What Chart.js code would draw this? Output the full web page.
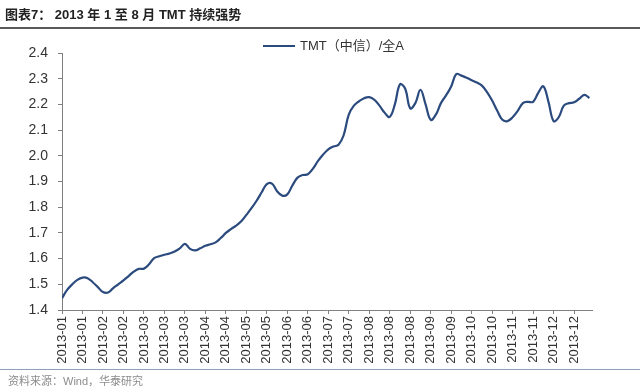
<!DOCTYPE html>
<html>
<head>
<meta charset="utf-8">
<script src="https://cdn.jsdelivr.net/npm/chart.js@4/dist/chart.umd.min.js"></script>
<style>
  body { margin: 0; background: #fff; }
  #wrap { position: relative; width: 640px; height: 387px; overflow: hidden; }
  #chart { position: absolute; left: 0; top: 0; }
  .title { position: absolute; left: 5px; top: 4px; font: bold 13px "Liberation Sans", "Noto Sans CJK SC", sans-serif; color: #222; white-space: pre; }
  .rule-top { position: absolute; left: 0; top: 27px; width: 640px; height: 2px; background: #595959; }
  .rule-bottom { position: absolute; left: 0; top: 369px; width: 640px; height: 1px; background: #8fa0b8; }
  .source { position: absolute; left: 8px; top: 372px; font: 11px "Liberation Sans", "Noto Sans CJK SC", sans-serif; color: #8c8c8c; }
</style>
</head>
<body>
<div id="wrap">
  <canvas id="chart" width="640" height="387"></canvas>
  <div class="title">图表7： 2013 年 1 至 8 月 TMT 持续强势</div>
  <div class="rule-top"></div>
  <div class="rule-bottom"></div>
  <div class="source">资料来源：Wind，华泰研究</div>
</div>
<script>
var seriesName = 'TMT（中信）/全A';

// tick labels, one every 4 points
var tickLabels = ['2013-01', '2013-01', '2013-02', '2013-02', '2013-03', '2013-03', '2013-03',
    '2013-04', '2013-04', '2013-05', '2013-05', '2013-06', '2013-06', '2013-07', '2013-07',
    '2013-08', '2013-08', '2013-08', '2013-09', '2013-09', '2013-10', '2013-10', '2013-11',
    '2013-11', '2013-12', '2013-12'];

// ratio, evenly spaced points
var values = [
    1.446, 1.478, 1.500, 1.517, 1.526, 1.524, 1.508, 1.489, 1.470, 1.468,
    1.485, 1.500, 1.515, 1.532, 1.549, 1.560, 1.561, 1.578, 1.602, 1.609,
    1.615, 1.620, 1.628, 1.640, 1.657, 1.638, 1.632, 1.640, 1.650, 1.656,
    1.663, 1.680, 1.700, 1.715, 1.728, 1.745, 1.770, 1.796, 1.825, 1.858,
    1.890, 1.892, 1.862, 1.845, 1.850, 1.885, 1.915, 1.925, 1.928, 1.950,
    1.980, 2.005, 2.025, 2.036, 2.043, 2.080, 2.160, 2.195, 2.212, 2.224,
    2.228, 2.218, 2.195, 2.168, 2.151, 2.200, 2.278, 2.262, 2.185, 2.205,
    2.257, 2.200, 2.140, 2.160, 2.205, 2.235, 2.270, 2.318, 2.312, 2.304,
    2.294, 2.285, 2.273, 2.248, 2.215, 2.175, 2.140, 2.135, 2.150, 2.175,
    2.205, 2.210, 2.210, 2.245, 2.270, 2.210, 2.135, 2.150, 2.195, 2.205,
    2.208, 2.222, 2.237, 2.225
];

var pointsPerTick = 4;
var fontFamily = '"Liberation Sans", "Noto Sans CJK SC", sans-serif';
var axisColor = '#808080';
var lineColor = '#2b4b7e';

// legend drawn by hand: short line + series name, placed above the plot
var lineLegend = {
    id: 'lineLegend',
    afterDraw: function (chart) {
        var ctx = chart.ctx;
        var ds = chart.data.datasets[0];
        var x = 263, y = 46;
        ctx.save();
        ctx.strokeStyle = ds.borderColor;
        ctx.lineWidth = 2;
        ctx.beginPath();
        ctx.moveTo(x, y);
        ctx.lineTo(x + 32, y);
        ctx.stroke();
        ctx.fillStyle = '#333';
        ctx.font = '13px ' + fontFamily;
        ctx.textBaseline = 'middle';
        ctx.fillText(ds.label, x + 37, y);
        ctx.restore();
    }
};

new Chart(document.getElementById('chart'), {
    type: 'line',
    data: {
        datasets: [{
            label: seriesName,
            data: values.map(function (v, i) { return { x: i, y: v }; }),
            borderColor: lineColor,
            borderWidth: 2.2,
            pointRadius: 0,
            tension: 0.4,
            fill: false
        }]
    },
    options: {
        responsive: false,
        animation: false,
        layout: { padding: { left: 0, right: 48, top: 53, bottom: 0 } },
        plugins: {
            legend: { display: false },
            tooltip: { enabled: false }
        },
        scales: {
            x: {
                type: 'linear',
                min: 0,
                max: 103.5,
                afterFit: function (s) { s.height = 77; },
                border: { display: true, color: axisColor, width: 1 },
                grid: { drawOnChartArea: false, drawTicks: true, tickLength: 4, color: axisColor },
                ticks: {
                    stepSize: pointsPerTick,
                    includeBounds: false,
                    autoSkip: false,
                    minRotation: 90,
                    maxRotation: 90,
                    padding: 2,
                    color: '#333',
                    font: { family: fontFamily, size: 13 },
                    callback: function (v) {
                        var k = v / pointsPerTick;
                        return tickLabels[k] || '';
                    }
                }
            },
            y: {
                min: 1.4,
                max: 2.4,
                afterFit: function (s) { s.width = 62; },
                border: { display: true, color: axisColor, width: 1 },
                grid: { drawOnChartArea: false, drawTicks: true, tickLength: 4, color: axisColor },
                ticks: {
                    stepSize: 0.1,
                    padding: 10,
                    color: '#333',
                    font: { family: fontFamily, size: 14 },
                    callback: function (v) { return v.toFixed(1); }
                }
            }
        }
    },
    plugins: [lineLegend]
});
</script>
</body>
</html>
